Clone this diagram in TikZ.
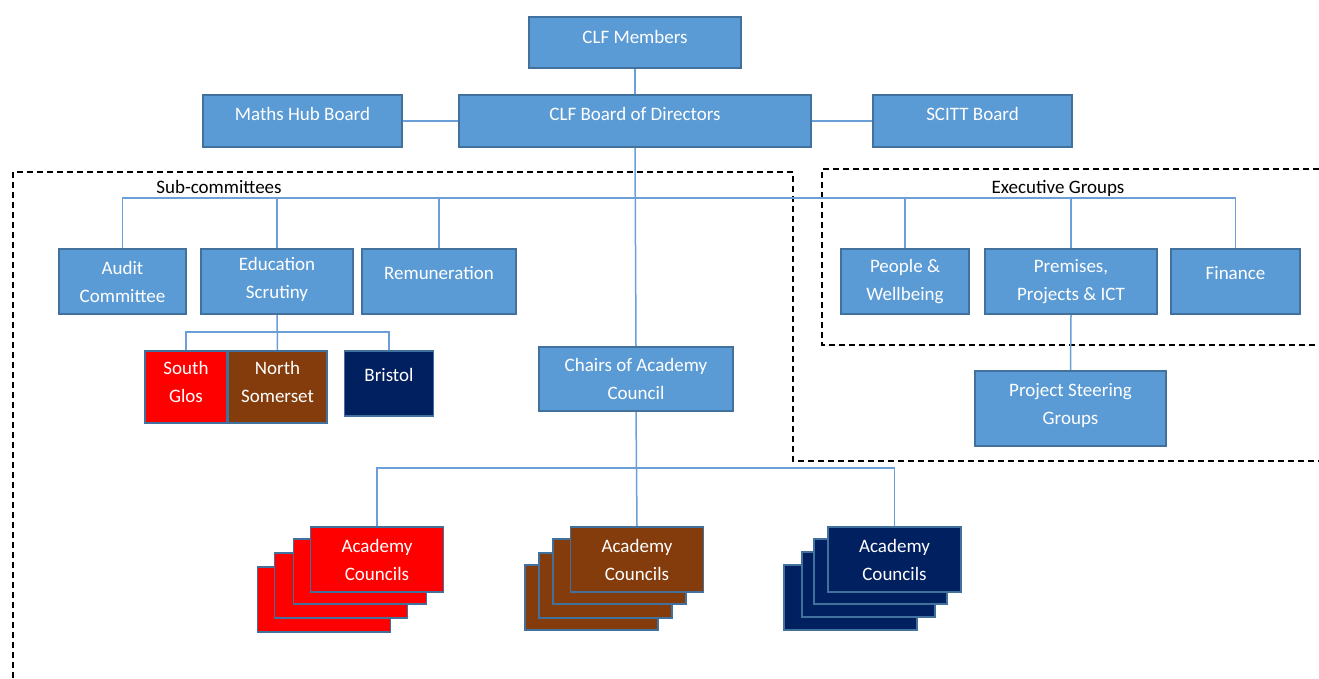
\documentclass[tikz,border=0pt]{standalone}
\usepackage{fontspec}
\setmainfont{Carlito}
\usetikzlibrary{backgrounds}
\definecolor{boxblue}{HTML}{5B9BD5}
\definecolor{edgeblue}{HTML}{41719C}
\definecolor{lineblue}{HTML}{6A9FD8}
\definecolor{clfred}{HTML}{FF0000}
\definecolor{clfbrown}{HTML}{843C0C}
\definecolor{clfnavy}{HTML}{002060}
\begin{document}
\begin{tikzpicture}[x=1pt,y=-1pt,
  orgbox/.style={draw=edgeblue, line width=1.2pt, fill=boxblue, text=white, align=center, font=\fontsize{19}{28}\selectfont, inner sep=0pt},
  link/.style={draw=lineblue, line width=1.5pt},
  fence/.style={draw=black, line width=1.5pt, dash pattern=on 6pt off 4pt},
  grouplabel/.style={font=\fontsize{19}{22}\selectfont, text=black, inner sep=0pt}]
\useasboundingbox (0,0) rectangle (1319,678);

% top level
\node[orgbox, minimum width=212pt, minimum height=51pt, text depth=12pt] (mem) at (635,42.5) {CLF Members};
\node[orgbox, minimum width=199pt, minimum height=52pt, text depth=14pt] (hub) at (302.5,121) {Maths Hub Board};
\node[orgbox, minimum width=352pt, minimum height=52pt, text depth=14pt] (bod) at (635,121) {CLF Board of Directors};
\node[orgbox, minimum width=199pt, minimum height=52pt, text depth=14pt] (scitt) at (972.5,121) {SCITT Board};

% sub-committees
\node[orgbox, minimum width=127pt, minimum height=65pt] (audit) at (122.5,281.5) {Audit\\Committee};
\node[orgbox, minimum width=152pt, minimum height=65pt, text depth=8pt] (edu) at (277,281.5) {Education\\Scrutiny};
\node[orgbox, minimum width=154pt, minimum height=65pt, text depth=18pt] (rem) at (439,281.5) {Remuneration};

% executive groups
\node[orgbox, minimum width=128pt, minimum height=65pt] (ppl) at (905,281.5) {People \&\\Wellbeing};
\node[orgbox, minimum width=172pt, minimum height=65pt] (prem) at (1071,281.5) {Premises,\\Projects \& ICT};
\node[orgbox, minimum width=129pt, minimum height=65pt, text depth=18pt] (fin) at (1235.5,281.5) {Finance};
\node[orgbox, minimum width=191pt, minimum height=75pt, text depth=10pt] (steer) at (1070.5,408.5) {Project Steering\\Groups};

% regions
\node[orgbox, fill=clfred, minimum width=82pt, minimum height=72pt, text depth=10pt] (glos) at (186,387) {South\\Glos};
\node[orgbox, fill=clfbrown, minimum width=99pt, minimum height=72pt, text depth=10pt] (nsom) at (277.5,387) {North\\Somerset};
\node[orgbox, fill=clfnavy, minimum width=89pt, minimum height=65pt, text depth=18pt] (bris) at (389,383.5) {Bristol};

% chairs
\node[orgbox, minimum width=194pt, minimum height=64pt] (chairs) at (636,379) {Chairs of Academy\\Council};

% academy council stacks
\begin{scope}[every node/.style={orgbox, minimum width=133pt, minimum height=65pt}]
\node[fill=clfred] (acR3) at (324,599.5) {};
\node[fill=clfred] (acR2) at (341,585.5) {};
\node[fill=clfred] (acR1) at (360,571.5) {};
\node[fill=clfred] (acR) at (377,559.5) {Academy\\Councils};

\node[fill=clfbrown] (acB3) at (591.5,597.5) {};
\node[fill=clfbrown] (acB2) at (605.5,585.5) {};
\node[fill=clfbrown] (acB1) at (619.5,571.5) {};
\node[fill=clfbrown] (acB) at (637,559.5) {Academy\\Councils};

\node[fill=clfnavy] (acN3) at (850.5,597.5) {};
\node[fill=clfnavy] (acN2) at (868.5,584.5) {};
\node[fill=clfnavy] (acN1) at (880.5,571.5) {};
\node[fill=clfnavy] (acN) at (894.5,559.5) {Academy\\Councils};
\end{scope}

% group labels
\node[grouplabel] (sublbl) at (219,187) {Sub-committees};
\node[grouplabel] (exlbl) at (1058,188) {Executive Groups};

\coordinate (bus) at (635,198);
\coordinate (subbus) at (277,332);
\coordinate (cbus) at (636,468);

\begin{scope}[on background layer]
% dashed fences
\draw[fence] (13,678) -- (13,172) -- (793,172) -- (793,461) -- (1319,461);
\draw[fence] (1319,169) -- (822,169) -- (822,345) -- (1319,345);
% connectors
\draw[link] (mem.south) -- (bod.north);
\draw[link] (hub.east) -- (bod.west);
\draw[link] (bod.east) -- (scitt.west);
\draw[link] (bod.south) -- (chairs.north);
\draw[link] (audit.north) |- (bus) -| (fin.north);
\draw[link] (edu.north) -- (edu.north |- bus);
\draw[link] (rem.north) -- (rem.north |- bus);
\draw[link] (ppl.north) -- (ppl.north |- bus);
\draw[link] (prem.north) -- (prem.north |- bus);
\draw[link] (edu.south) -- (nsom.north);
\draw[link] (glos.north) |- (subbus) -| (bris.north);
\draw[link] (prem.south) -- (steer.north);
\draw[link] (chairs.south) -- (acB.north);
\draw[link] (acR.north) |- (cbus) -| (acN.north);
\end{scope}
\end{tikzpicture}
\end{document}
